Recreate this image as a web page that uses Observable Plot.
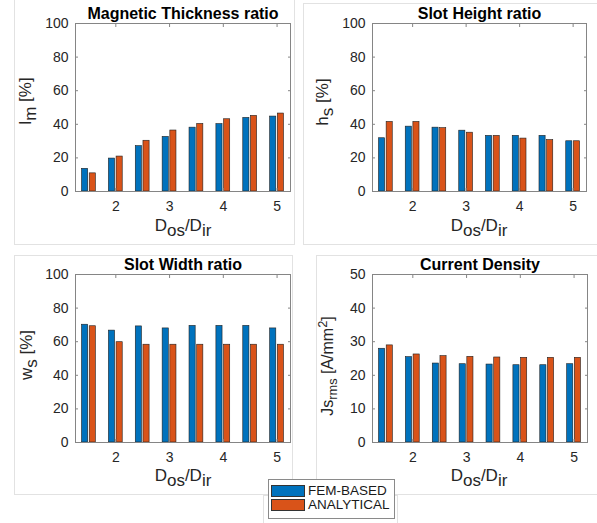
<!DOCTYPE html>
<html><head><meta charset="utf-8">
<script src="https://cdn.jsdelivr.net/npm/d3@7"></script>
<script src="https://cdn.jsdelivr.net/npm/@observablehq/plot@0.6"></script>
<style>
body{margin:0;background:#fff;font-family:"Liberation Sans",Arial,sans-serif;}
#wrap{position:relative;width:597px;height:523px;overflow:hidden;background:#fff}
.pane{position:absolute;border:1px solid #e2e2e2;box-sizing:border-box}
.plot{position:absolute}
svg g[aria-label$="tick label"], svg g[aria-label$="tick label"] text{font-size:14px !important;font-family:"Liberation Sans",Arial,sans-serif !important}
.lab{position:absolute;font-size:17px;color:#262626;white-space:nowrap;line-height:1}
.ylab{transform:translate(-50%,-50%) rotate(-90deg)}
.xlab{transform:translate(-50%,0)}
.sb{position:relative;top:0.3em}
.sbs{position:relative;top:0.3em;font-size:0.8em}
.sp{position:relative;top:-0.45em;font-size:0.8em}
#legend{position:absolute;left:268px;top:479px;width:127px;height:40px;box-sizing:border-box;border:1px solid #8a8a8a;background:#fff;font-size:13.5px;color:#1a1a1a}
.lrow{position:absolute;left:2px;height:13px;display:flex;align-items:center}
.sw{width:34px;height:12px;border:1px solid #333;box-sizing:border-box;margin-right:3px}
</style></head>
<body>
<div id="wrap"></div>
<script>
// ---- data ----
const xPos = [1.5, 2, 2.5, 3, 3.5, 4, 4.5, 5];
const xTicks = [2, 3, 4, 5];
const seriesNames = ["FEM-BASED", "ANALYTICAL"];
const seriesColors = ["#0072BD", "#D95319"];
const titles = ["Magnetic Thickness ratio", "Slot Height ratio", "Slot Width ratio", "Current Density"];
const ticksPct = [0, 20, 40, 60, 80, 100];
const ticksJs = [0, 10, 20, 30, 40, 50];
const lmFem = [13.5, 19.6, 27.0, 32.5, 38.0, 40.1, 43.8, 44.6];
const lmAn  = [10.8, 20.8, 30.2, 36.3, 40.2, 43.0, 45.0, 46.4];
const hsFem = [31.7, 38.6, 38.0, 36.2, 33.1, 33.1, 33.1, 29.9];
const hsAn  = [41.4, 41.4, 37.7, 35.0, 33.1, 31.5, 30.6, 29.9];
const wsFem = [70.1, 66.6, 69.1, 67.9, 69.4, 69.4, 69.4, 67.9];
const wsAn  = [69.2, 59.7, 58.2, 58.2, 58.2, 58.2, 58.2, 58.2];
const jsFem = [27.9, 25.4, 23.5, 23.3, 23.2, 23.0, 23.0, 23.3];
const jsAn  = [28.9, 26.2, 25.7, 25.5, 25.3, 25.2, 25.2, 25.2];

const wrap = document.getElementById("wrap");

// panel background borders
[[14,-1,281,246],[303,3,300,242],[14,255,279,240],[316,255,290,240],[263,495,135,40]].forEach(([l,t,w,h])=>{
  const d=document.createElement("div");d.className="pane";
  Object.assign(d.style,{left:l+"px",top:t+"px",width:w+"px",height:h+"px"});
  wrap.appendChild(d);
});

const spacing = 0.5;
const groupW = spacing * Math.min(0.8, 2 / 3.5);
const barW = groupW / 2 * 0.8;
const offs = [-groupW / 4, groupW / 4];

function panel(cfg) {
  const marks = [];
  [cfg.fem, cfg.an].forEach((vals, s) => {
    const rows = xPos.map((x, i) => ({x, v: vals[i]}));
    marks.push(Plot.rectY(rows, {
      x1: d => d.x + offs[s] - barW / 2,
      x2: d => d.x + offs[s] + barW / 2,
      y1: 0, y2: "v",
      fill: seriesColors[s], stroke: "#1f1f1f", strokeWidth: 0.6
    }));
  });
  const ax = {stroke: "#858585", fill: "#262626", fontSize: 14, label: null};
  marks.push(
    Plot.frame({stroke: "#858585"}),
    Plot.axisY(cfg.yTicks, {...ax, anchor: "left", tickSize: -3, tickPadding: 10}),
    Plot.axisY(cfg.yTicks, {...ax, anchor: "right", tickSize: -3, tickFormat: () => ""}),
    Plot.axisX(xTicks, {...ax, anchor: "bottom", tickSize: -3, tickPadding: 13}),
    Plot.axisX(xTicks, {...ax, anchor: "top", tickSize: -3, tickFormat: () => ""}),
    Plot.text([cfg.title], {text: d => d, frameAnchor: "top", lineAnchor: "bottom", dy: -5,
      fontSize: 16, fontWeight: "bold", fill: "#000"})
  );
  const svg = Plot.plot({
    width: cfg.w, height: cfg.h,
    marginLeft: cfg.ml, marginRight: cfg.mr, marginTop: cfg.mt, marginBottom: cfg.mb,
    x: {type: "linear", domain: [1.25, 5.25], axis: null},
    y: {domain: cfg.yDomain, axis: null},
    style: {fontFamily: "'Liberation Sans', Arial, sans-serif", fontSize: "14px", background: "transparent", overflow: "visible"},
    marks
  });
  svg.classList.add("plot");
  svg.style.left = cfg.left + "px";
  svg.style.top = cfg.top + "px";
  svg.style.position = "absolute";
  wrap.appendChild(svg);
}

panel({title: titles[0], fem: lmFem, an: lmAn, yTicks: ticksPct, yDomain: [0, 100],
  left: 0, top: 0, w: 297, h: 250, ml: 75, mr: 7, mt: 23, mb: 59});
panel({title: titles[1], fem: hsFem, an: hsAn, yTicks: ticksPct, yDomain: [0, 100],
  left: 297, top: 0, w: 300, h: 250, ml: 75, mr: 11, mt: 23, mb: 59});
panel({title: titles[2], fem: wsFem, an: wsAn, yTicks: ticksPct, yDomain: [0, 100],
  left: 0, top: 250, w: 297, h: 273, ml: 75, mr: 7, mt: 24, mb: 81});
panel({title: titles[3], fem: jsFem, an: jsAn, yTicks: ticksJs, yDomain: [0, 50],
  left: 297, top: 250, w: 300, h: 273, ml: 75, mr: 10, mt: 24, mb: 81});

// axis labels (with sub/superscripts)
function lab(html, cls, x, y, fs) {
  const d = document.createElement("div");
  d.className = "lab " + cls;
  d.innerHTML = html;
  d.style.left = x + "px"; d.style.top = y + "px";
  if (fs) d.style.fontSize = fs + "px";
  wrap.appendChild(d);
}
const xl = 'D<span class="sb">os</span>/D<span class="sb">ir</span>';
lab(xl, "xlab", 183, 217);
lab(xl, "xlab", 479, 217);
lab(xl, "xlab", 183, 467);
lab(xl, "xlab", 479, 467);
lab('l<span class="sb">m</span> [%]', "ylab", 25, 101);
lab('h<span class="sb">s</span> [%]', "ylab", 322, 102);
lab('w<span class="sb">s</span> [%]', "ylab", 26, 355);
lab('Js<span class="sbs">rms</span> [A/mm<span class="sp">2</span>]', "ylab", 328, 366, 16);

// legend
const lg = document.createElement("div");
lg.id = "legend";
seriesNames.forEach((n, i) => {
  const r = document.createElement("div");
  r.className = "lrow";
  r.style.top = (4 + i * 14) + "px";
  r.innerHTML = `<div class="sw" style="background:${seriesColors[i]}"></div><span>${n}</span>`;
  lg.appendChild(r);
});
wrap.appendChild(lg);
</script>
</body></html>
